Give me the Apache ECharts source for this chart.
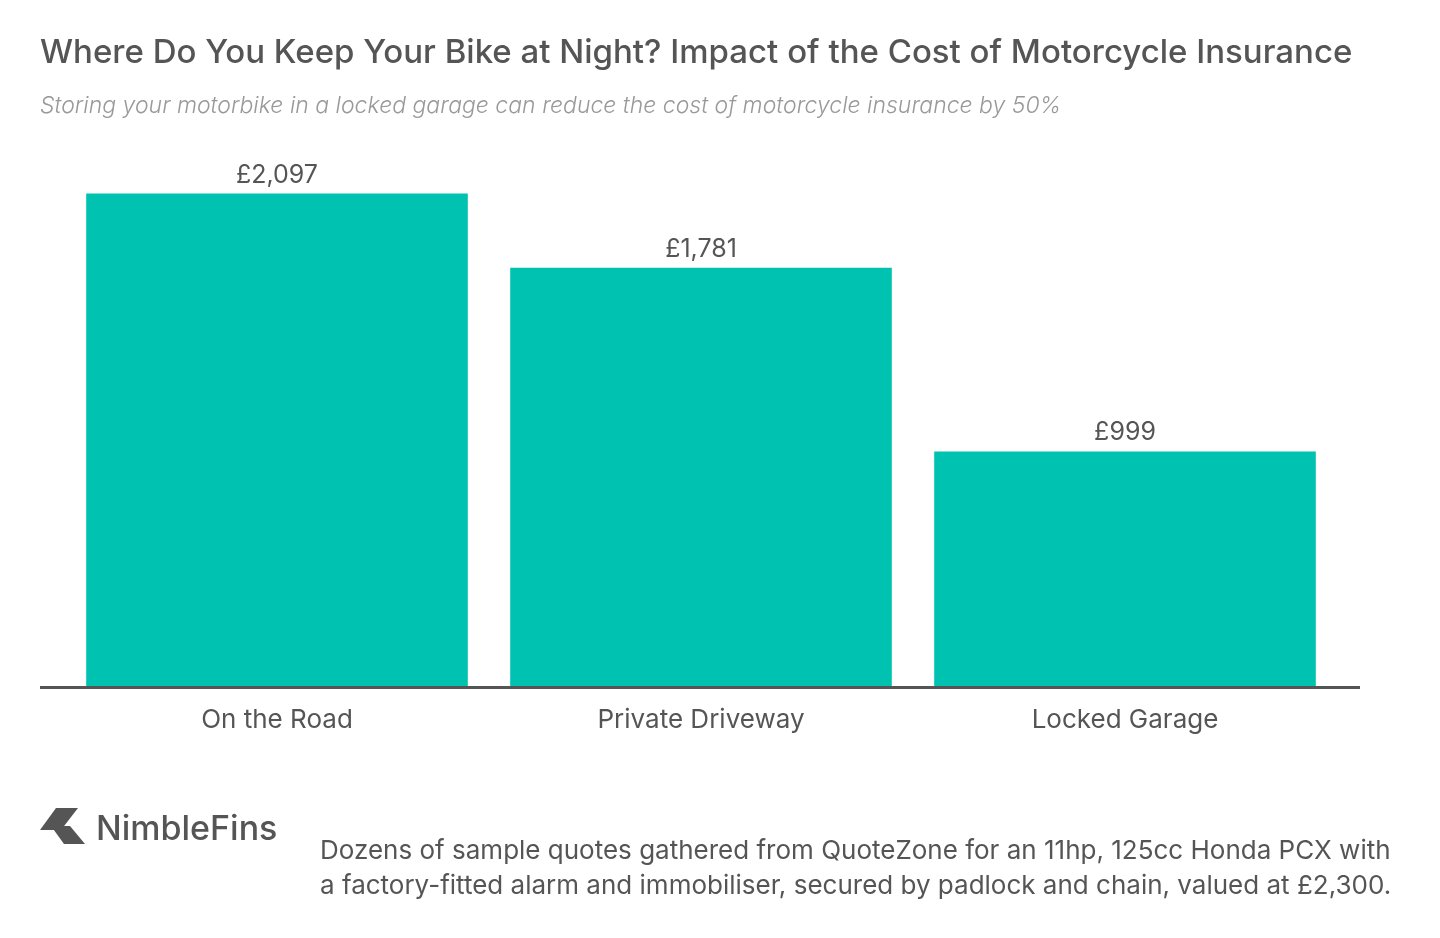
<!DOCTYPE html>
<html>
<head>
<meta charset="utf-8">
<script src="https://cdn.jsdelivr.net/npm/echarts@6/dist/echarts.min.js"></script>
<style>
html,body{margin:0;padding:0;background:#fff;}
#chart{width:1440px;height:938px;}
</style>
</head>
<body>
<div id="chart"></div>
<script>
const categories = ['On the Road', 'Private Driveway', 'Locked Garage'];
const premiums = [2097, 1781, 999];
const titleText = 'Where Do You Keep Your Bike at Night? Impact of the Cost of Motorcycle Insurance';
const subtitleText = 'Storing your motorbike in a locked garage can reduce the cost of motorcycle insurance by 50%';
const footnoteLines = [
  'Dozens of sample quotes gathered from QuoteZone for an 11hp, 125cc Honda PCX with',
  'a factory-fitted alarm and immobiliser, secured by padlock and chain, valued at £2,300.'
];
const brandName = 'NimbleFins';

const FONT = 'Inter, Roboto, "Noto Sans", sans-serif';
const chart = echarts.init(document.getElementById('chart'), null, {renderer: 'canvas'});
chart.setOption({
  animation: false,
  backgroundColor: '#ffffff',
  title: [
    {text: titleText, left: 35, top: 32, textStyle: {fontFamily: FONT, fontSize: 33, fontWeight: 500, color: '#555555'}},
    {text: subtitleText, left: 35, top: 90, textStyle: {fontFamily: FONT, fontSize: 23, fontStyle: 'italic', fontWeight: 300, color: '#999999'}}
  ],
  grid: {left: 65, width: 1272, top: 99, bottom: 252, containLabel: false},
  xAxis: {
    type: 'category',
    data: categories,
    axisLine: {show: false},
    axisTick: {show: false},
    axisLabel: {fontFamily: FONT, fontSize: 26, color: '#555555', margin: 21}
  },
  yAxis: {
    type: 'value', min: 0, max: 2500,
    show: false, splitLine: {show: false}
  },
  series: [{
    type: 'bar',
    data: premiums,
    barWidth: '90%',
    itemStyle: {color: '#00C2B0'},
    label: {
      show: true, position: 'top', distance: 6,
      fontFamily: FONT, fontSize: 25, color: '#555555',
      formatter: p => '£' + p.value.toLocaleString('en-GB')
    }
  }],
  graphic: [
    {type: 'line', shape: {x1: 40, y1: 687.5, x2: 1360, y2: 687.5}, style: {stroke: '#555555', lineWidth: 3}, z: 10},
    {type: 'polygon', shape: {points: [[56,808],[78,808],[61,830],[40,830]]}, style: {fill: '#555555'}},
    {type: 'polygon', shape: {points: [[51,826],[70,826],[85,844],[64,844]]}, style: {fill: '#555555'}},
    {type: 'text', left: 96, top: 813, style: {text: brandName, font: '500 34px ' + FONT, fill: '#555555'}},
    {type: 'text', left: 320, top: 834, style: {text: footnoteLines.join('\n'), font: '26px ' + FONT, fill: '#555555', lineHeight: 35}}
  ]
});
</script>
</body>
</html>
